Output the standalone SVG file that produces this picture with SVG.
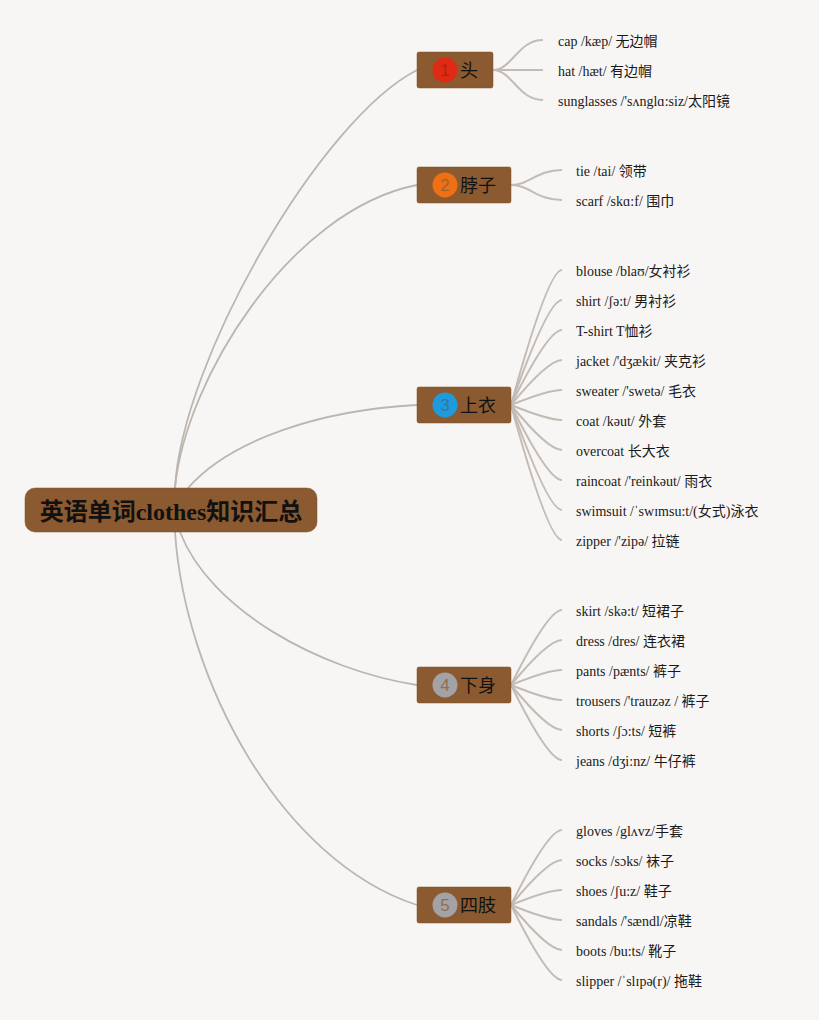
<svg xmlns="http://www.w3.org/2000/svg" width="819" height="1020" viewBox="0 0 819 1020">
<style>
.bg{fill:#F8F6F4}
.main{fill:none;stroke:#BDB5AF;stroke-width:1.8}
.leaf{fill:none;stroke:#C3BBB4;stroke-width:2}
.node{fill:#8B5A30;stroke:#7E5028;stroke-width:0.5}
.lbl{font-family:"Noto Sans CJK SC","Noto Sans",sans-serif;font-size:18px;fill:#111}
.num{font-family:"Liberation Sans","Noto Sans",sans-serif;font-size:17px;fill:#8B5A30;fill-opacity:0.75;text-anchor:middle}
.txt{font-family:"Liberation Serif","Noto Sans CJK SC",serif;font-size:14px;fill:#1a1a1a}
.root{font-family:"Liberation Serif","Noto Sans CJK SC",serif;font-size:24px;font-weight:bold;fill:#111;text-anchor:middle}
</style>
<rect class="bg" x="0" y="0" width="819" height="1020"/>
<g id="connectors">
<path class="main" d="M175,488 C182,360 320,120 417,70"/>
<path class="main" d="M175,488 C185,380 290,210 417,185"/>
<path class="main" d="M188,488 C230,440 320,410 417,405"/>
<path class="main" d="M180,532 C210,610 320,670 417,685"/>
<path class="main" d="M175,532 C185,680 280,860 417,905"/>
<path class="leaf" d="M493,70 C512,70 518,40 543,40"/>
<path class="leaf" d="M493,70 L543,70"/>
<path class="leaf" d="M493,70 C512,70 518,100 543,100"/>
<path class="leaf" d="M511,185 C530,185 536,170 562,170"/>
<path class="leaf" d="M511,185 C530,185 536,200 562,200"/>
<path class="leaf" d="M511,405 Q548,270 562,270"/>
<path class="leaf" d="M511,405 Q548,300 562,300"/>
<path class="leaf" d="M511,405 Q548,330 562,330"/>
<path class="leaf" d="M511,405 Q548,360 562,360"/>
<path class="leaf" d="M511,405 Q548,390 562,390"/>
<path class="leaf" d="M511,405 Q548,420 562,420"/>
<path class="leaf" d="M511,405 Q548,450 562,450"/>
<path class="leaf" d="M511,405 Q548,480 562,480"/>
<path class="leaf" d="M511,405 Q548,510 562,510"/>
<path class="leaf" d="M511,405 Q548,540 562,540"/>
<path class="leaf" d="M511,685 Q548,610 562,610"/>
<path class="leaf" d="M511,685 Q548,640 562,640"/>
<path class="leaf" d="M511,685 Q548,670 562,670"/>
<path class="leaf" d="M511,685 Q548,700 562,700"/>
<path class="leaf" d="M511,685 Q548,730 562,730"/>
<path class="leaf" d="M511,685 Q548,760 562,760"/>
<path class="leaf" d="M511,905 Q548,830 562,830"/>
<path class="leaf" d="M511,905 Q548,860 562,860"/>
<path class="leaf" d="M511,905 Q548,890 562,890"/>
<path class="leaf" d="M511,905 Q548,920 562,920"/>
<path class="leaf" d="M511,905 Q548,950 562,950"/>
<path class="leaf" d="M511,905 Q548,980 562,980"/>
</g>
<g id="root">
<rect class="node" x="25" y="488" width="292" height="44" rx="10"/>
<text class="root" x="171" y="520">英语单词clothes知识汇总</text>
</g>
<g id="n1">
<rect class="node" x="417" y="52" width="76" height="36" rx="2"/>
<circle cx="445" cy="70" r="12.5" fill="#DF2A14"/>
<text class="num" x="445" y="76" style="fill:#A0200F">1</text>
<text class="lbl" x="460" y="77">头</text>
</g>
<g id="n2">
<rect class="node" x="417" y="167" width="94" height="36" rx="2"/>
<circle cx="445" cy="185" r="12.5" fill="#EE7014"/>
<text class="num" x="445" y="191">2</text>
<text class="lbl" x="460" y="192">脖子</text>
</g>
<g id="n3">
<rect class="node" x="417" y="387" width="94" height="36" rx="2"/>
<circle cx="445" cy="405" r="12.5" fill="#1E9BDD"/>
<text class="num" x="445" y="411" style="fill:#3C6A86">3</text>
<text class="lbl" x="460" y="412">上衣</text>
</g>
<g id="n4">
<rect class="node" x="417" y="667" width="94" height="36" rx="2"/>
<circle cx="445" cy="685" r="12.5" fill="#A3A3A5"/>
<text class="num" x="445" y="691">4</text>
<text class="lbl" x="460" y="692">下身</text>
</g>
<g id="n5">
<rect class="node" x="417" y="887" width="94" height="36" rx="2"/>
<circle cx="445" cy="905" r="12.5" fill="#A3A3A5"/>
<text class="num" x="445" y="911">5</text>
<text class="lbl" x="460" y="912">四肢</text>
</g>
<g id="leaves1">
<text class="txt" x="558" y="46">cap /kæp/ 无边帽</text>
<text class="txt" x="558" y="76">hat /hæt/ 有边帽</text>
<text class="txt" x="558" y="106">sunglasses /'sʌnglɑ:siz/太阳镜</text>
</g>
<g id="leaves2">
<text class="txt" x="576" y="176">tie /tai/ 领带</text>
<text class="txt" x="576" y="206">scarf /skɑ:f/ 围巾</text>
</g>
<g id="leaves3">
<text class="txt" x="576" y="276">blouse /blaʊ/女衬衫</text>
<text class="txt" x="576" y="306">shirt /ʃə:t/ 男衬衫</text>
<text class="txt" x="576" y="336">T-shirt T恤衫</text>
<text class="txt" x="576" y="366">jacket /'dʒækit/ 夹克衫</text>
<text class="txt" x="576" y="396">sweater /'swetə/ 毛衣</text>
<text class="txt" x="576" y="426">coat /kəut/ 外套</text>
<text class="txt" x="576" y="456">overcoat 长大衣</text>
<text class="txt" x="576" y="486">raincoat /'reinkəut/ 雨衣</text>
<text class="txt" x="576" y="516">swimsuit /ˈswɪmsu:t/(女式)泳衣</text>
<text class="txt" x="576" y="546">zipper /'zipə/ 拉链</text>
</g>
<g id="leaves4">
<text class="txt" x="576" y="616">skirt /skə:t/ 短裙子</text>
<text class="txt" x="576" y="646">dress /dres/ 连衣裙</text>
<text class="txt" x="576" y="676">pants /pænts/ 裤子</text>
<text class="txt" x="576" y="706">trousers /'trauzəz / 裤子</text>
<text class="txt" x="576" y="736">shorts /ʃɔ:ts/ 短裤</text>
<text class="txt" x="576" y="766">jeans /dʒi:nz/ 牛仔裤</text>
</g>
<g id="leaves5">
<text class="txt" x="576" y="836">gloves /glʌvz/手套</text>
<text class="txt" x="576" y="866">socks /sɔks/ 袜子</text>
<text class="txt" x="576" y="896">shoes /ʃu:z/ 鞋子</text>
<text class="txt" x="576" y="926">sandals /'sændl/凉鞋</text>
<text class="txt" x="576" y="956">boots /bu:ts/ 靴子</text>
<text class="txt" x="576" y="986">slipper /ˈslɪpə(r)/ 拖鞋</text>
</g>
</svg>
